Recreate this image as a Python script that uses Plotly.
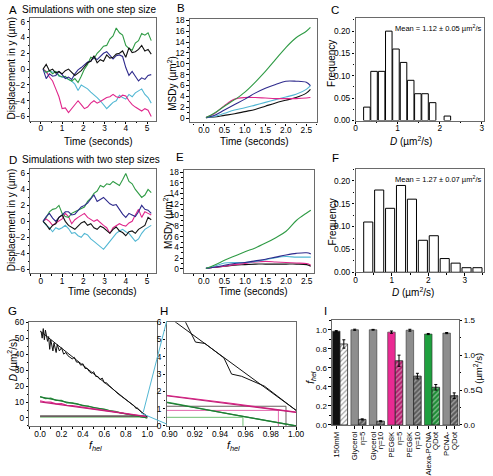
import plotly.graph_objects as go

W, H = 493, 476
def px(x): return x / W
def py(y): return 1 - y / H

FONT = "Liberation Sans, Arial, sans-serif"
GREEN = "#2f9b45"; BLACK = "#111111"; NAVY = "#2e2a8c"; CYAN = "#52b7d3"; MAGENTA = "#e0268b"
AXC = "#6a6a6a"

# ---------------- data ----------------
t_walk = [0.10, 0.25, 0.40, 0.55, 0.70, 0.85, 1.00, 1.15, 1.30, 1.45, 1.60, 1.75, 1.90, 2.05,
          2.20, 2.35, 2.50, 2.65, 2.80, 2.95, 3.10, 3.25, 3.40, 3.55, 3.70, 3.85, 4.00, 4.15,
          4.30, 4.45, 4.60, 4.75, 4.90, 5.05, 5.20]

a_green = [0.0, -0.4, -0.2, -0.6, -0.3, -0.8, -1.0, -0.9, -1.3, -1.5, -1.2, -1.7, -0.9, 0.0, 0.6,
           1.5, 1.3, 2.0, 2.4, 2.9, 3.0, 3.8, 4.2, 5.2, 4.6, 4.3, 3.0, 2.6, 2.4, 3.3, 3.6, 4.5, 4.3, 4.6, 3.6]
a_black = [0.0, 0.6, -0.2, 0.0, -0.5, -0.3, -0.6, -0.2, 0.0, -0.4, -0.8, -0.5, -0.2, 0.3, 0.8,
           1.0, 1.7, 0.8, 1.2, 1.0, 1.8, 1.4, 1.5, 1.9, 2.0, 2.3, 1.5, 2.7, 2.1, 2.2, 2.5, 3.0, 2.3, 2.5, 1.9]
a_navy = [0.0, -1.2, -0.6, -0.9, -0.8, -0.3, -0.7, -1.2, -1.0, -1.3, -0.6, -0.1, 0.2, 0.5, 0.9,
          1.0, 1.5, 1.2, 1.6, 2.0, 2.2, 1.8, 1.3, 1.7, 1.8, 1.6, 0.2, -0.8, -0.3, -0.9, -1.5, -1.1, -1.3, -0.8, -0.7]
a_cyan = [0.0, -0.5, -0.2, -0.4, -0.3, -0.9, -1.0, -1.1, -1.3, -1.5, -1.9, -2.7, -2.0, -2.2, -2.5,
          -2.9, -3.2, -3.6, -4.0, -4.5, -5.0, -4.6, -4.2, -4.0, -3.3, -3.6, -3.8, -3.2, -3.5, -3.0, -2.7, -2.5, -3.2, -3.6, -4.3]
a_magenta = [0.0, -0.3, -1.0, -1.5, -2.5, -3.5, -5.0, -4.9, -5.5, -5.0, -4.6, -4.0, -4.5, -5.0, -4.8,
             -4.3, -4.0, -4.3, -4.1, -3.8, -3.6, -3.5, -3.2, -3.5, -3.6, -3.3, -3.4, -4.0, -4.5, -4.8, -5.0, -5.3, -5.0, -5.2, -6.0]

d_green = [0.0, 0.5, 1.2, 1.5, 1.6, 2.0, 1.0, 0.6, 0.5, 1.0, 1.2, 1.4, 1.5, 1.8, 2.5, 2.9, 3.5, 3.8,
           4.5, 4.3, 4.7, 4.6, 5.0, 4.8, 4.5, 5.2, 6.0, 5.0, 4.7, 4.0, 3.5, 3.0, 3.3, 4.0, 3.6]
d_navy = [0.0, 0.6, 1.0, 0.4, 0.0, 0.5, 0.8, 1.2, 1.2, 0.8, 0.9, 1.3, 1.8, 2.0, 2.3, 2.8, 3.3, 2.5,
          2.8, 3.0, 2.6, 2.2, 2.0, 2.1, 1.5, 0.9, 0.5, 1.0, 0.8, 0.6, 1.2, 2.0, 1.5, 1.4, 1.0]
d_black = [0.0, -0.4, -1.0, -0.5, -0.3, 0.5, 0.8, 0.0, -0.5, -0.8, -1.0, -0.6, -0.2, 0.0, -0.5, -0.3,
           -0.8, -1.0, -0.6, -0.8, -1.2, -1.5, -1.0, -0.7, -1.2, -1.4, -1.8, -1.3, -1.2, -1.5, -1.0, -0.8, -0.5, 0.5, 0.2]
d_magenta = [0.0, 0.3, 0.0, -0.5, -0.2, 0.0, 0.3, 1.0, 0.6, -0.3, 0.2, 0.5, 0.8, 1.0, 0.5, 0.3, 0.0,
             0.2, -0.2, -0.5, -0.8, -1.5, -0.8, -0.5, -0.3, -0.5, -0.6, -0.2, 0.0, 0.8, 1.5, 0.5, 1.2, 1.0, 0.8]
d_cyan = [0.0, -0.5, -0.8, -1.3, -0.8, -1.0, -0.8, -0.5, -0.9, -1.5, -1.4, -1.8, -2.0, -1.5, -1.7, -2.2,
          -2.5, -2.8, -3.2, -3.5, -3.0, -2.5, -2.0, -1.5, -1.2, -1.0, -1.3, -1.5, -2.0, -2.5, -2.2, -1.5, -1.0, -0.8, -0.5]

t_msd = [0.05, 0.25, 0.50, 0.75, 1.00, 1.25, 1.50, 1.75, 2.00, 2.25, 2.50, 2.60]
b_green = [0.1, 0.9, 2.2, 3.4, 4.8, 6.6, 8.6, 10.8, 13.0, 14.8, 16.0, 16.7]
b_navy = [0.1, 0.5, 1.5, 2.5, 3.5, 4.6, 5.5, 6.2, 6.8, 6.8, 6.6, 6.0]
b_magenta = [0.1, 0.8, 2.3, 3.5, 3.8, 3.8, 3.7, 3.6, 3.6, 3.6, 3.7, 3.8]
b_cyan = [0.1, 0.3, 0.9, 1.5, 1.9, 2.4, 2.9, 3.4, 3.9, 4.4, 5.3, 6.0]
b_black = [0.1, 0.2, 0.5, 0.8, 1.2, 1.6, 2.2, 2.8, 3.3, 3.8, 4.6, 5.3]

e_green = [0.1, 0.7, 1.6, 2.4, 3.2, 3.9, 4.8, 5.8, 7.0, 9.0, 10.4, 10.9]
e_navy = [0.1, 0.3, 0.7, 1.0, 1.2, 1.5, 1.8, 2.2, 2.6, 2.9, 3.0, 2.8]
e_cyan = [0.1, 0.5, 1.1, 1.2, 1.2, 1.4, 1.7, 2.1, 2.3, 2.2, 2.2, 2.2]
e_magenta = [0.1, 0.3, 0.5, 0.8, 1.0, 1.3, 1.4, 1.3, 1.2, 1.1, 1.0, 0.7]
e_black = [0.1, 0.3, 0.5, 0.7, 0.8, 0.9, 0.9, 0.9, 0.9, 0.9, 0.8, 0.5]

c_bins = [0.27, 0.44, 0.62, 0.79, 0.96, 1.14, 1.31, 1.48, 1.65, 1.83, 2.18]
c_freq = [0.03, 0.11, 0.11, 0.20, 0.16, 0.13, 0.09, 0.06, 0.06, 0.04, 0.01]
f_bins = [0.35, 0.65, 0.95, 1.25, 1.55, 1.85, 2.15, 2.45, 2.75, 3.05, 3.35]
f_freq = [0.11, 0.18, 0.14, 0.19, 0.16, 0.07, 0.08, 0.03, 0.02, 0.01, 0.01]
c_mean = "Mean = 1.12 ± 0.05 µm<sup>2</sup>/s"
f_mean = "Mean = 1.27 ± 0.07 µm<sup>2</sup>/s"

g_f = [0.01, 0.02, 0.03, 0.04, 0.05, 0.06, 0.07, 0.08, 0.09, 0.10, 0.11, 0.12, 0.13, 0.14, 0.15, 0.16,
       0.18, 0.20, 0.22, 0.24, 0.26, 0.28, 0.30, 0.32, 0.34, 0.36, 0.38, 0.40, 0.42, 0.44, 0.46, 0.48,
       0.50, 0.52, 0.54, 0.56, 0.58, 0.60, 0.62, 0.65, 0.68, 0.70, 0.73, 0.76, 0.80, 0.84, 0.88,
       0.895, 0.905, 0.912, 0.9205, 0.928, 0.943, 0.949, 0.957, 0.975, 0.99, 1.0]
g_black = [54, 50, 56, 49, 55, 50, 48, 51, 43, 49, 45, 42, 47, 44, 41, 46,
           42, 44, 40, 41, 39, 38, 37, 38, 35, 35, 33, 34, 31, 31, 29, 28,
           29, 26, 26, 24, 25, 22, 22, 20, 18, 17, 15, 13.5, 11.5, 9.5, 7.5,
           5.9, 6.4, 6.1, 4.85, 4.77, 3.93, 3.0, 2.87, 2.3, 1.45, 0.9]
g_fit_f = [0.0, 1.0]
g_black_fit = [54.5, 0.9]
g_f2 = [0.0, 0.05, 0.10, 0.15, 0.20, 0.25, 0.30, 0.35, 0.40, 0.45, 0.50, 0.55, 0.60, 0.65, 0.70,
        0.75, 0.80, 0.85, 0.90, 0.95, 1.0]
g_green = [13.5, 12.1, 12.4, 11.0, 11.0, 9.4, 9.4, 8.9, 7.6, 7.5, 6.4, 6.0, 5.5, 4.5, 4.1, 3.2, 2.7,
           1.95, 1.35, 0.66, 0.0]
g_green_fit = [13.2, 0.0]
g_magenta = [10.8, 10.0, 9.9, 8.8, 9.0, 7.9, 7.8, 7.3, 6.6, 6.3, 5.5, 5.3, 4.8, 4.2, 3.9, 3.2, 2.7,
             2.2, 1.75, 1.3, 0.8]
g_magenta_fit = [10.1, 0.79]
ro_gray_f = [0.0, 0.992, 0.992]; ro_gray_d = [1.14, 1.14, 0.0]
ro_mag_f = [0.0, 0.986, 0.986]; ro_mag_d = [0.9, 0.9, 0.0]
ro_grn_f = [0.0, 0.958, 0.958]; ro_grn_d = [0.5, 0.5, 0.0]

i_groups = [0, 1, 2, 3, 4, 5, 6]
i_fhel = [0.985, 1.0, 1.0, 0.975, 0.995, 0.955, 0.965]
i_fhel_err = [0.006, 0.006, 0.004, 0.012, 0.01, 0.006, 0.006]
i_D = [1.16, 0.08, 0.055, 0.92, 0.70, 0.54, 0.42]
i_D_err = [0.06, 0.008, 0.006, 0.08, 0.04, 0.04, 0.04]
i_tickpos = [-0.205, 0.795, 1.205, 1.795, 2.205, 2.795, 3.205, 3.795, 4.205, 4.795, 5.205, 5.795, 6.205]
i_ticktext = ["150mM", "Glycerol", "η=5", "Glycerol", "η=10", "PEG8K", "η=5",
              "PEG8K", "η=10", "Alexa-PCNA", "QDot", "PCNA-", "QDot"]
i_fhel_colors = [BLACK, "#8e8e8e", "#8e8e8e", "#ea2a93", "#8e8e8e", "#1fa03f", "#8e8e8e"]
i_D_colors = ["#ffffff", "#5a5a5a", "#5a5a5a", "#b21c6c", "#5a5a5a", "#1c8a34", "#5a5a5a"]

# ---------------- figure ----------------
fig = go.Figure()
TICKF = dict(family=FONT, size=8.3, color="black")

def add_axes(k, box, xr, yr, xd, xm, yd, ym, xfmt=None, yfmt=None, xt0=0, yt0=0):
    x0, x1, y0, y1 = box
    xa = dict(domain=[px(x0), px(x1)], range=xr, anchor="y" + k, dtick=xd, tick0=xt0,
              showline=True, mirror=True, linecolor=AXC, linewidth=1.3, ticks="outside",
              ticklen=2.5, tickwidth=1, tickcolor="black", showgrid=False, zeroline=False,
              ticklabelstandoff=-3,
              tickfont=TICKF, minor=dict(ticks="outside", ticklen=1.5, dtick=xm, tickcolor="black"))
    ya = dict(domain=[py(y1), py(y0)], range=yr, anchor="x" + k, dtick=yd, tick0=yt0,
              showline=True, mirror=True, linecolor=AXC, linewidth=1.3, ticks="outside",
              ticklen=2.5, tickwidth=1, tickcolor="black", showgrid=False, zeroline=False,
              tickfont=TICKF, minor=dict(ticks="outside", ticklen=1.5, dtick=ym, tickcolor="black"))
    if xfmt: xa["tickformat"] = xfmt
    if yfmt: ya["tickformat"] = yfmt
    fig.layout["xaxis" + k] = xa
    fig.layout["yaxis" + k] = ya

add_axes("", (26, 155, 13, 118), [-0.5, 5.42], [-6.5, 6.5], 1, 0.5, 2, 1)
add_axes("2", (190, 320, 14, 120), [-0.34, 2.75], [-0.8, 18.3], 0.5, 0.25, 2, 1, xfmt=".1f")
add_axes("3", (360, 492, 13, 118), [0, 3.05], [0, 0.23], 1, 0.5, 0.05, 0.025, yfmt=".2f")
add_axes("4", (26, 155, 168, 274), [-0.5, 5.42], [-6.5, 6.5], 1, 0.5, 2, 1)
add_axes("5", (184, 317, 169, 274), [-0.48, 2.67], [-0.8, 18.3], 0.5, 0.25, 2, 1, xfmt=".1f")
add_axes("6", (360, 492, 168, 273), [0, 3.53], [0, 0.225], 1, 0.5, 0.05, 0.025, yfmt=".2f")
add_axes("7", (25, 156, 324, 430), [-0.1, 1.09], [-5, 60], 0.2, 0.1, 10, 5, xfmt=".1f")
add_axes("8", (166, 299, 324, 430), [0.8977, 1.0], [0, 6], 0.02, 0.01, 1, 0.5, xfmt=".2f", xt0=0.9)
add_axes("9", (336, 466, 322, 429), [-0.43, 6.45], [0, 1.1], 1, 0.5, 0.2, 0.1, yfmt=".1f")

# Panel I axes customisation
fig.layout.xaxis9.update(tickmode="array", tickvals=i_tickpos, ticktext=i_ticktext,
                         tickangle=-90, minor=dict(ticks=""), ticklabelstandoff=0,
                         tickfont=dict(family=FONT, size=7.8, color="black"))
fig.layout.yaxis9.update(tickfont=dict(family=FONT, size=8, color="black"))
fig.layout["yaxis10"] = dict(overlaying="y9", side="right", anchor="x9", range=[0, 1.5], dtick=0.5,
                             tickformat=".1f", ticks="outside", ticklen=2.5, tickcolor="black",
                             showline=False, showgrid=False, zeroline=False,
                             tickfont=dict(family=FONT, size=8, color="black"),
                             minor=dict(ticks="outside", ticklen=1.5, dtick=0.25, tickcolor="black"))

def line(k, x, y, color, width=1.1, shape="linear"):
    fig.add_trace(go.Scatter(x=x, y=y, mode="lines", line=dict(color=color, width=width, shape=shape),
                             xaxis="x" + k, yaxis="y" + k, hoverinfo="skip"))

for ys, c in [(a_cyan, CYAN), (a_magenta, MAGENTA), (a_green, GREEN), (a_navy, NAVY), (a_black, BLACK)]:
    line("", t_walk, ys, c)
for ys, c in [(d_cyan, CYAN), (d_magenta, MAGENTA), (d_green, GREEN), (d_navy, NAVY), (d_black, BLACK)]:
    line("4", t_walk, ys, c)
for ys, c in [(b_black, BLACK), (b_cyan, CYAN), (b_magenta, MAGENTA), (b_navy, NAVY), (b_green, GREEN)]:
    line("2", t_msd, ys, c, shape="spline")
for ys, c in [(e_black, BLACK), (e_magenta, MAGENTA), (e_cyan, CYAN), (e_navy, NAVY), (e_green, GREEN)]:
    line("5", t_msd, ys, c, shape="spline")

for k, xs, ys, w in [("3", c_bins, c_freq, 0.155), ("6", f_bins, f_freq, 0.25)]:
    fig.add_trace(go.Bar(x=xs, y=ys, width=w, marker=dict(color="white", line=dict(color="black", width=1)),
                         xaxis="x" + k, yaxis="y" + k, hoverinfo="skip"))

# G and H
for k in ("7", "8"):
    line(k, ro_grn_f, ro_grn_d, "#6fbf72", 1.0)
    line(k, ro_mag_f, ro_mag_d, "#e46aae", 1.0)
    line(k, ro_gray_f, ro_gray_d, "#6a5f5f", 1.6 if k == "7" else 1.0)
    line(k, g_f2, g_green, GREEN, 1.2)
    line(k, g_fit_f, g_green_fit, "#1f7a34", 1.2)
    line(k, g_f2, g_magenta, MAGENTA, 1.2)
    line(k, g_fit_f, g_magenta_fit, "#c21f77", 1.2)
    line(k, g_f, g_black, BLACK, 1.0)
    line(k, g_fit_f, g_black_fit, BLACK, 1.0)

# I bars
fig.add_trace(go.Bar(x=i_groups, y=i_fhel, width=0.41, offset=-0.41,
                     marker=dict(color=i_fhel_colors, line=dict(color="#333333", width=0.6)),
                     error_y=dict(type="data", array=i_fhel_err, color="black", thickness=1, width=1.5),
                     xaxis="x9", yaxis="y9", hoverinfo="skip"))
fig.add_trace(go.Bar(x=i_groups, y=i_D, width=0.41, offset=0,
                     marker=dict(color=i_D_colors, line=dict(color="#222222", width=0.8),
                                 pattern=dict(shape="/", fgcolor="black", size=3.5, solidity=0.35)),
                     error_y=dict(type="data", array=i_D_err, color="black", thickness=1, width=1.5),
                     xaxis="x9", yaxis="y10", hoverinfo="skip"))

# ---------------- text ----------------
ann = []
def text(x, y, s, size=10.5, angle=0, xanchor="center", yanchor="middle"):
    ann.append(dict(x=px(x), y=py(y), xref="paper", yref="paper", text=s, showarrow=False,
                    font=dict(family=FONT, size=size, color="black"), textangle=angle,
                    xanchor=xanchor, yanchor=yanchor))

LET = 11.5
TT = 10
text(2, 5, "A", LET, xanchor="left"); text(15, 5, "Simulations with one step size", TT, xanchor="left")
text(175, 3, "B", LET, xanchor="left")
text(333, 5, "C", LET, xanchor="left")
text(2, 158, "D", LET, xanchor="left"); text(15, 158, "Simulations with two step sizes", TT, xanchor="left")
text(174, 155, "E", LET, xanchor="left")
text(334, 156, "F", LET, xanchor="left")
text(1, 313, "G", LET, xanchor="left")
text(157, 313, "H", LET, xanchor="left")
text(326, 313, "I", LET, xanchor="left")

AT = 10
TIME = "Time (seconds)"
DUNIT = "<i>D</i> (µm<sup>2</sup>/s)"
FHEL = "<i>f</i><sub><i>hel</i></sub>"
text(96, 139, TIME, AT); text(7, 65, "Displacement in y (µm)", AT, -90)
text(256, 139, TIME, AT); text(172, 80, "MSDy (µm<sup>2</sup>)", AT, -90)
text(417, 139, DUNIT, AT); text(336, 60, "Frequency", AT, -90)
text(100, 293, TIME, AT); text(7, 220, "Displacement in y (µm)", AT, -90)
text(255, 293, TIME, AT); text(168, 221, "MSDy (µm<sup>2</sup>)", AT, -90)
text(419, 293, DUNIT, AT); text(336, 222, "Frequency", AT, -90)
text(93, 450, FHEL, 10.5); text(8, 363, DUNIT, AT, -90)
text(235, 450, FHEL, 10.5)
text(314, 380, FHEL, 10, -90); text(486, 376, DUNIT, 9.5, -90)
text(491, 24, c_mean, 7.5, xanchor="right")
text(491, 178, f_mean, 7.5, xanchor="right")
fig.update_layout(annotations=ann)

# zoom callout lines from G to H
fig.add_shape(type="line", xref="paper", yref="paper", x0=px(142), y0=py(416), x1=px(166), y1=py(323),
              line=dict(color=CYAN, width=1))
fig.add_shape(type="line", xref="paper", yref="paper", x0=px(140), y0=py(417), x1=px(166), y1=py(428),
              line=dict(color=CYAN, width=1))

fig.update_layout(width=W, height=H, margin=dict(l=0, r=0, t=0, b=0), showlegend=False,
                  paper_bgcolor="white", plot_bgcolor="white", barmode="overlay",
                  font=dict(family=FONT, size=9, color="black"))

fig.write_html("out.html", config={"displayModeBar": False},
               post_script="document.body.style.margin='0px';document.body.style.overflow='hidden';")
